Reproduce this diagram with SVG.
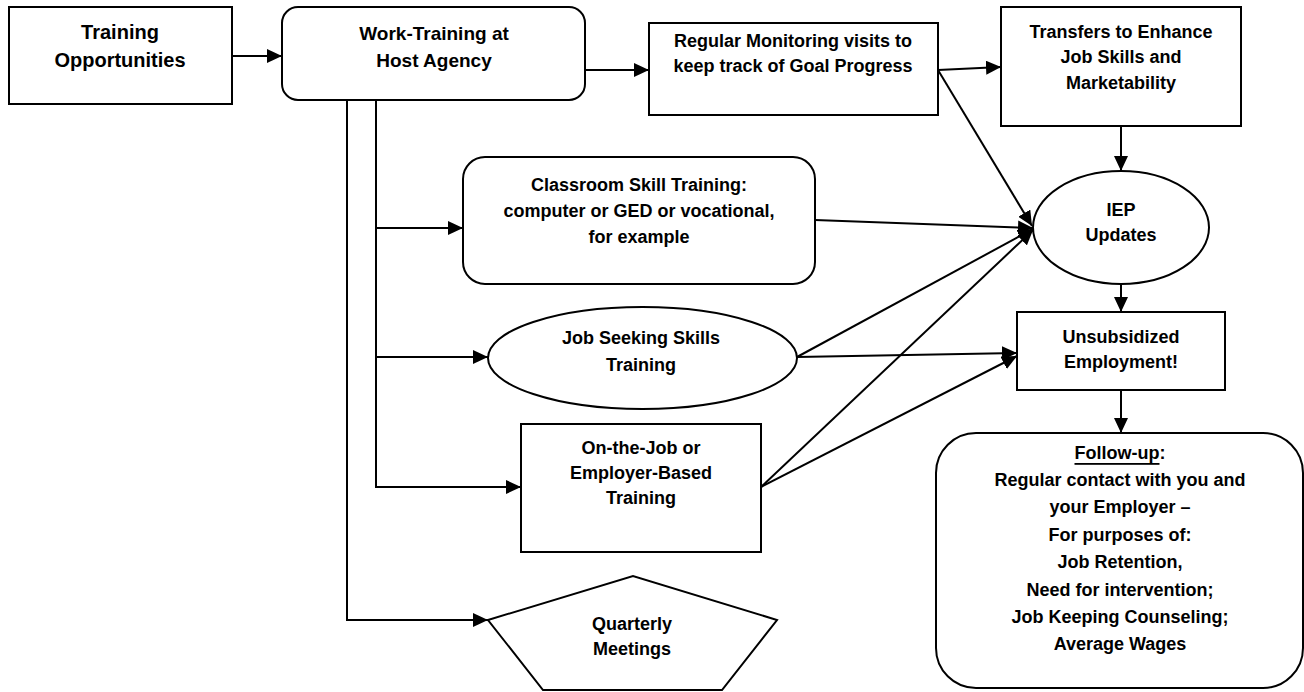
<svg xmlns="http://www.w3.org/2000/svg" width="1304" height="692" viewBox="0 0 1304 692">
<defs>
<marker id="ah" markerUnits="userSpaceOnUse" markerWidth="16" markerHeight="14" refX="15" refY="7" orient="auto">
<path d="M0,0 L15,7 L0,14 z" fill="#000"/>
</marker>
<style>
.s{fill:#fff;stroke:#000;stroke-width:2}
.t{font-family:"Liberation Sans",Arial,sans-serif;font-weight:bold;font-size:18px;fill:#000;text-anchor:middle;dominant-baseline:central}
.c{fill:none;stroke:#000;stroke-width:2}
.a{marker-end:url(#ah)}
</style>
</defs>
<rect width="1304" height="692" fill="#fff"/>
<g id="connectors">
<line class="c a" x1="232" y1="56" x2="282" y2="56"/>
<line class="c a" x1="585" y1="70" x2="649" y2="70"/>
<line class="c a" x1="938" y1="70" x2="1001" y2="67"/>
<line class="c a" x1="938" y1="70" x2="1032" y2="226"/>
<line class="c a" x1="1121" y1="126" x2="1121" y2="171"/>
<line class="c a" x1="1121" y1="284" x2="1121" y2="312"/>
<line class="c a" x1="1121" y1="390" x2="1121" y2="433"/>
<polyline class="c a" points="347,100 347,620 488,620"/>
<line class="c" x1="376" y1="100" x2="376" y2="488"/>
<line class="c a" x1="376" y1="228" x2="463" y2="228"/>
<line class="c a" x1="376" y1="357" x2="488" y2="357"/>
<line class="c a" x1="375" y1="487" x2="521" y2="487"/>
<line class="c a" x1="815" y1="220" x2="1033" y2="228"/>
<line class="c a" x1="797" y1="357" x2="1033" y2="229"/>
<line class="c a" x1="797" y1="357" x2="1017" y2="353"/>
<line class="c a" x1="761" y1="487" x2="1033" y2="230"/>
<line class="c a" x1="761" y1="487" x2="1017" y2="356"/>
</g>
<g id="training-opportunities">
<rect class="s" x="9" y="7" width="223" height="97"/>
<text class="t" style="font-size:20px"><tspan x="120" y="32">Training</tspan><tspan x="120" y="60">Opportunities</tspan></text>
</g>
<g id="work-training">
<rect class="s" x="282" y="7" width="303" height="93" rx="16"/>
<text class="t" style="font-size:19px"><tspan x="434" y="33">Work-Training at</tspan><tspan x="434" y="60">Host Agency</tspan></text>
</g>
<g id="regular-monitoring">
<rect class="s" x="649" y="23" width="289" height="92"/>
<text class="t"><tspan x="793" y="41">Regular Monitoring visits to</tspan><tspan x="793" y="66">keep track of Goal Progress</tspan></text>
</g>
<g id="transfers">
<rect class="s" x="1001" y="7" width="240" height="119"/>
<text class="t"><tspan x="1121" y="32">Transfers to Enhance</tspan><tspan x="1121" y="57">Job Skills and</tspan><tspan x="1121" y="83">Marketability</tspan></text>
</g>
<g id="iep-updates">
<ellipse class="s" cx="1121" cy="227.5" rx="88" ry="56.5"/>
<text class="t"><tspan x="1121" y="210">IEP</tspan><tspan x="1121" y="235">Updates</tspan></text>
</g>
<g id="unsubsidized">
<rect class="s" x="1017" y="312" width="208" height="78"/>
<text class="t"><tspan x="1121" y="337">Unsubsidized</tspan><tspan x="1121" y="362">Employment!</tspan></text>
</g>
<g id="follow-up">
<rect class="s" x="936" y="433" width="367" height="255" rx="40"/>
<text class="t"><tspan x="1120" y="453"><tspan text-decoration="underline">Follow-up</tspan>:</tspan><tspan x="1120" y="480">Regular contact with you and</tspan><tspan x="1120" y="507">your Employer –</tspan><tspan x="1120" y="535">For purposes of:</tspan><tspan x="1120" y="562">Job Retention,</tspan><tspan x="1120" y="590">Need for intervention;</tspan><tspan x="1120" y="617">Job Keeping Counseling;</tspan><tspan x="1120" y="644">Average Wages</tspan></text>
</g>
<g id="classroom">
<rect class="s" x="463" y="157" width="352" height="127" rx="22"/>
<text class="t"><tspan x="639" y="185">Classroom Skill Training:</tspan><tspan x="639" y="211">computer or GED or vocational,</tspan><tspan x="639" y="237">for example</tspan></text>
</g>
<g id="job-seeking">
<ellipse class="s" cx="642.5" cy="358" rx="154.5" ry="51"/>
<text class="t"><tspan x="641" y="338">Job Seeking Skills</tspan><tspan x="641" y="365">Training</tspan></text>
</g>
<g id="on-the-job">
<rect class="s" x="521" y="424" width="240" height="128"/>
<text class="t"><tspan x="641" y="448">On-the-Job or</tspan><tspan x="641" y="473">Employer-Based</tspan><tspan x="641" y="498">Training</tspan></text>
</g>
<g id="quarterly">
<polygon class="s" points="488,620 633,576 777,620 722,690 543,690"/>
<text class="t"><tspan x="632" y="624">Quarterly</tspan><tspan x="632" y="649">Meetings</tspan></text>
</g>
</svg>
